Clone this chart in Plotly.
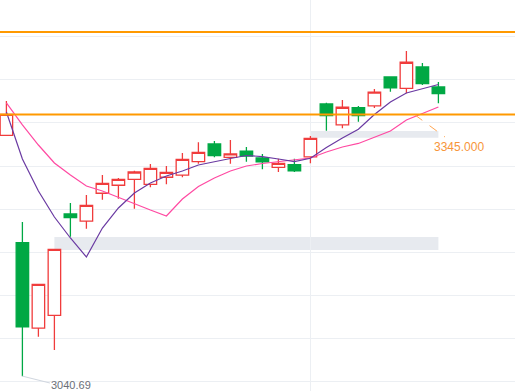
import plotly.graph_objects as go

# ---- data ----
idx = list(range(28))
opens = [3320.7, 3195.8, 3096.6, 3111.4, 3229.2, 3221.0, 3253.3, 3262.6, 3269.5, 3263.7,
         3271.9, 3274.5, 3290.0, 3310.6, 3295.1, 3302.4, 3294.3, 3283.5, 3286.5, 3295.5,
         3357.1, 3332.7, 3352.8, 3354.8, 3388.5, 3375.3, 3400.1, 3376.9]
highs = [3360.6, 3219.9, 3147.4, 3188.1, 3242.0, 3251.3, 3274.5, 3271.0, 3279.5, 3287.3,
         3285.0, 3300.1, 3312.6, 3314.1, 3315.2, 3307.1, 3299.0, 3293.5, 3293.5, 3319.9,
         3358.6, 3361.7, 3354.8, 3374.5, 3388.5, 3418.7, 3404.8, 3382.7]
lows = [3320.7, 3040.69, 3086.5, 3071.0, 3202.8, 3212.1, 3245.8, 3247.0, 3235.4, 3260.2,
        3263.7, 3271.9, 3287.7, 3295.1, 3287.7, 3290.0, 3281.2, 3278.0, 3278.0, 3288.1,
        3326.0, 3328.8, 3336.5, 3352.4, 3371.4, 3369.5, 3379.2, 3357.9]
closes = [3345.1, 3098.1, 3147.4, 3188.1, 3224.9, 3239.3, 3264.9, 3269.5, 3278.0, 3282.3,
          3277.7, 3292.8, 3300.9, 3297.0, 3299.0, 3296.6, 3289.7, 3288.1, 3279.5, 3317.2,
          3343.5, 3353.3, 3343.5, 3371.0, 3376.0, 3405.6, 3380.7, 3369.1]
ma5 = [3347.8, 3293.1, 3255.9, 3225.7, 3201.3, 3179.2, 3212.9, 3236.2, 3253.6, 3265.2,
       3273.4, 3279.2, 3286.2, 3290.2, 3293.7, 3297.2, 3296.0, 3293.1, 3290.0, 3294.0,
       3306.5, 3317.6, 3327.7, 3344.9, 3359.4, 3369.9, 3374.5, 3379.8]
ma10 = [3358.3, 3332.7, 3309.4, 3288.5, 3274.5, 3261.7, 3255.9, 3248.4, 3240.8, 3233.8,
        3226.9, 3246.6, 3261.2, 3271.0, 3279.2, 3285.0, 3287.9, 3290.2, 3292.0, 3294.3,
        3301.3, 3307.1, 3311.2, 3318.1, 3325.7, 3338.5, 3346.0, 3353.6]

level_upper = 3440.8
level_mark = 3345.0
mark_label = "3345.000"
low_label = "3040.69"
zone_low = (3, 27, 3187.3, 3202.4)
zone_high = (19, 27, 3317.9, 3325.7)

RED = "#f03c3c"
GREEN = "#00a844"
ORANGE = "#ff9900"
GRID = "#eceff3"
ZONE = "#e7eaef"

fig = go.Figure()
fig.add_trace(go.Candlestick(
    x=idx, open=opens, high=highs, low=lows, close=closes,
    increasing=dict(line=dict(color=RED, width=1.3), fillcolor="white"),
    decreasing=dict(line=dict(color=GREEN, width=1.3), fillcolor=GREEN),
    whiskerwidth=0, hoverinfo="skip", showlegend=False,
))
fig.add_trace(go.Scatter(x=idx, y=ma10, mode="lines",
                         line=dict(color="#ff4aa2", width=1.2), hoverinfo="skip", showlegend=False))
fig.add_trace(go.Scatter(x=idx, y=ma5, mode="lines",
                         line=dict(color="#6a3aa2", width=1.2), hoverinfo="skip", showlegend=False))

shapes = []
for (x0, x1, y0, y1) in (zone_low, zone_high):
    shapes.append(dict(type="rect", xref="x", yref="y", x0=x0, x1=x1, y0=y0, y1=y1,
                       fillcolor=ZONE, line=dict(width=0), layer="below"))
for lv in (level_upper, level_mark):
    shapes.append(dict(type="line", xref="paper", yref="y", x0=0, x1=1, y0=lv, y1=lv,
                       line=dict(color=ORANGE, width=2), layer="above"))
# leader lines for the labels
shapes.append(dict(type="line", xref="x", yref="y", x0=25.54, x1=27.41, y0=3344.3, y1=3318.7,
                   line=dict(color="#ffa550", width=1, dash="dash")))
shapes.append(dict(type="line", xref="x", yref="y", x0=1, x1=2.72, y0=lows[1], y1=3032.7,
                   line=dict(color="#d0d6df", width=1)))

annotations = [
    dict(x=26.58, y=3307.4, xref="x", yref="y", text=mark_label, showarrow=False,
         xanchor="left", yanchor="middle", font=dict(color="#f7953a", size=12,
                                                      family="Liberation Sans, Arial, sans-serif")),
    dict(x=2.68, y=3030.0, xref="x", yref="y", text=low_label, showarrow=False,
         xanchor="left", yanchor="middle", font=dict(color="#6b6f78", size=11,
                                                      family="Liberation Sans, Arial, sans-serif")),
]

fig.update_layout(
    width=515, height=391,
    margin=dict(l=0, r=0, t=0, b=0),
    paper_bgcolor="white", plot_bgcolor="white",
    boxgap=0.22, boxgroupgap=0,
    shapes=shapes, annotations=annotations,
    xaxis=dict(range=[-0.4, 31.7875], rangeslider=dict(visible=False),
               tickvals=[19], showticklabels=False, showgrid=True, gridcolor=GRID,
               zeroline=False, showline=False, ticks=""),
    yaxis=dict(range=[3023.4, 3478.0], tick0=3335, dtick=50, showticklabels=False,
               showgrid=True, gridcolor=GRID, zeroline=False, showline=False, ticks=""),
)
fig.write_html("out.html", config={"displayModeBar": False},
               post_script="document.body.style.margin='0';document.body.style.padding='0';")
